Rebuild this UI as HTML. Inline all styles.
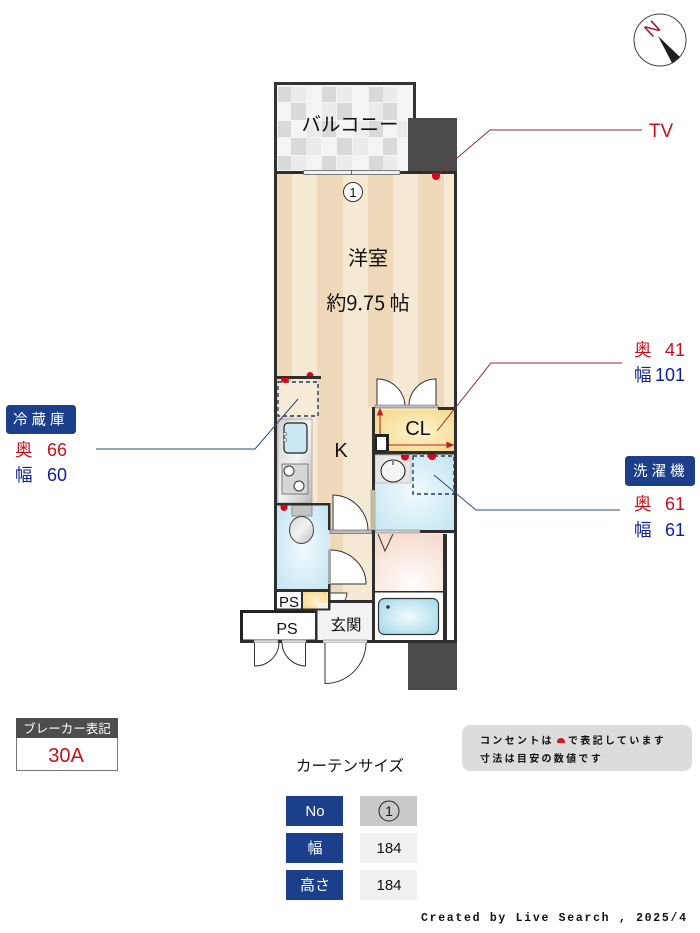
<!DOCTYPE html>
<html lang="ja"><head><meta charset="utf-8"><title>間取り図</title>
<style>
html,body{margin:0;padding:0;background:#fff}
svg{display:block}
text{font-family:"Liberation Sans","Noto Sans CJK JP",sans-serif;fill:#111}
.j{font-family:"Noto Sans CJK JP","Liberation Sans",sans-serif}
.r{fill:#c8101c}.b{fill:#10209c}.w{fill:#fff}
</style></head><body>
<svg width="700" height="933" viewBox="0 0 700 933" xmlns="http://www.w3.org/2000/svg">
<defs>
<radialGradient id="blue" cx="50%" cy="50%" r="75%"><stop offset="0" stop-color="#f2fafd"/><stop offset="1" stop-color="#bfe3f0"/></radialGradient>
<radialGradient id="pink" cx="55%" cy="85%" r="85%"><stop offset="0" stop-color="#fffdfb"/><stop offset="1" stop-color="#f6dccf"/></radialGradient>
<radialGradient id="tub" cx="50%" cy="50%" r="60%"><stop offset="0" stop-color="#f2fbfd"/><stop offset="1" stop-color="#a9dcea"/></radialGradient>
<radialGradient id="yel" cx="55%" cy="50%" r="65%"><stop offset="0" stop-color="#fdf3d2"/><stop offset="1" stop-color="#f6d98a"/></radialGradient>
<linearGradient id="steel" x1="0" y1="0" x2="1" y2="1"><stop offset="0" stop-color="#d2d2d2"/><stop offset=".5" stop-color="#f3f3f3"/><stop offset="1" stop-color="#bdbdbd"/></linearGradient>
</defs>
<rect width="700" height="933" fill="#fff"/>

<!-- balcony -->
<rect x="275.500" y="83.500" width="139" height="90" fill="#f4f4f4" stroke="#333" stroke-width="3"/>
<g fill="#d9d9d9">
<rect x="278" y="87" width="13" height="15"/><rect x="322" y="87" width="14" height="15"/><rect x="369" y="87" width="14" height="15"/>
<rect x="291" y="103" width="15" height="17"/><rect x="337" y="103" width="15" height="17"/><rect x="383" y="103" width="14" height="17"/>
<rect x="278" y="121" width="13" height="16"/><rect x="322" y="121" width="14" height="16"/><rect x="369" y="121" width="14" height="16"/>
<rect x="291" y="138" width="15" height="17"/><rect x="337" y="138" width="15" height="17"/><rect x="383" y="138" width="14" height="17"/>
<rect x="278" y="156" width="13" height="14"/><rect x="322" y="156" width="14" height="14"/><rect x="369" y="156" width="14" height="14"/>
</g>
<g fill="#ebebeb">
<rect x="291" y="87" width="15" height="15"/><rect x="337" y="87" width="15" height="15"/><rect x="383" y="87" width="14" height="15"/>
<rect x="322" y="103" width="14" height="17"/><rect x="369" y="103" width="14" height="17"/><rect x="306" y="121" width="15" height="16"/>
<rect x="353" y="121" width="15" height="16"/><rect x="397" y="121" width="10" height="16"/><rect x="306" y="138" width="15" height="17"/>
<rect x="353" y="138" width="15" height="17"/><rect x="291" y="156" width="15" height="14"/><rect x="337" y="156" width="15" height="14"/><rect x="383" y="156" width="14" height="14"/>
</g>
<!-- dark columns -->
<rect x="408" y="118" width="49" height="55" fill="#4a4a4a"/>
<rect x="408" y="642" width="49" height="48" fill="#4a4a4a"/>

<!-- floor -->
<rect x="275" y="172" width="182" height="430" fill="#f5e9d3"/>
<g fill="#eed9bb">
<rect x="277" y="174" width="15" height="356"/><rect x="317" y="174" width="26" height="360"/><rect x="368" y="174" width="25" height="234"/><rect x="418" y="174" width="26" height="234"/>
</g>
<rect x="343" y="534" width="29" height="66" fill="#f5e9d3"/><rect x="330" y="534" width="13" height="66" fill="#eed9bb"/>

<!-- fridge -->
<rect x="278" y="382" width="40" height="34" fill="#f5ebd8" stroke="#1d3a66" stroke-width="1.400" stroke-dasharray="4 3"/>

<!-- kitchen -->
<rect x="278" y="419" width="34" height="84" fill="url(#steel)" stroke="#999" stroke-width=".7"/>
<rect x="284" y="423" width="23" height="30" rx="4" fill="#c9e8f2" stroke="#222" stroke-width="1.200"/>
<circle cx="285" cy="434" r="1.600" fill="#eee" stroke="#555" stroke-width=".6"/><circle cx="285" cy="440" r="1.600" fill="#eee" stroke="#555" stroke-width=".6"/>
<rect x="282" y="464" width="26" height="30" fill="#d6d6d6" stroke="#666" stroke-width=".8"/>
<circle cx="289" cy="471" r="5" fill="#fff" stroke="#333"/><circle cx="299" cy="486" r="5" fill="#fff" stroke="#333"/>

<!-- toilet -->
<rect x="277" y="504" width="52" height="86" fill="url(#blue)"/>
<rect x="292" y="505" width="20" height="11" fill="#c4c4c4" stroke="#777" stroke-width=".7"/>
<ellipse cx="301.500" cy="530" rx="12" ry="13.500" fill="url(#steel)" stroke="#444"/>

<!-- inner door to corridor -->
<path d="M333 495 A36 36 0 0 1 368 531 L333 531 Z" fill="#fff" stroke="#333" stroke-width="1"/>
<rect x="330" y="530" width="42" height="3.500" fill="#bbb" stroke="#555" stroke-width=".6"/>
<path d="M330 550 A36 34 0 0 1 366 584 L330 584 Z" fill="#fff" stroke="#333" stroke-width="1"/>
<rect x="328" y="550" width="3" height="34" fill="#aaa"/>

<!-- PS / yellow -->
<rect x="277" y="592" width="24" height="17" fill="#fff"/>
<rect x="303" y="592" width="24" height="17" fill="url(#yel)"/>
<path d="M330 593 L347 593 A17 17 0 0 1 330 609 Z" fill="#fff" stroke="#333" stroke-width=".9"/>
<rect x="241.500" y="611.500" width="75" height="29.500" fill="#fff" stroke="#222" stroke-width="3"/>
<rect x="317" y="603" width="55" height="37" fill="#f3f3f3"/>
<rect x="372" y="534" width="84" height="107" fill="#fff"/>

<!-- bath -->
<rect x="374" y="534" width="69" height="58" fill="url(#pink)"/>
<rect x="374" y="592" width="69" height="48" fill="#fff"/>
<rect x="378.500" y="598.500" width="60" height="36" rx="6" fill="url(#tub)" stroke="#333" stroke-width="1.200"/>
<circle cx="388" cy="607" r="1.800" fill="#234"/>
<path d="M378 534 L385 551 L393 534" fill="none" stroke="#444" stroke-width="1.100"/>
<rect x="447" y="534" width="8" height="106" fill="#fff"/>

<!-- washroom -->
<rect x="374" y="455" width="80" height="76" fill="url(#blue)"/>
<rect x="375" y="455" width="36" height="28" fill="#e6e6e6" stroke="#aaa" stroke-width=".6"/>
<ellipse cx="393" cy="471" rx="12" ry="11" fill="#f4f4f4" stroke="#222" stroke-width="1.100"/>
<path d="M393 461 V465" stroke="#222" stroke-width="1"/>
<rect x="413" y="456" width="41" height="38" fill="none" stroke="#1d3a66" stroke-width="1.400" stroke-dasharray="4 3"/>
<rect x="371" y="490" width="4" height="40" fill="#c6bfa6" stroke="#888" stroke-width=".5"/>

<!-- CL -->
<rect x="375" y="410" width="79" height="41" fill="url(#yel)"/>
<path d="M377 379 A28 28 0 0 1 405 407 L377 407 Z" fill="#fff" stroke="#333"/>
<path d="M436 379 A27 27 0 0 0 409 407 L436 407 Z" fill="#fff" stroke="#333"/>
<rect x="375" y="405" width="63" height="3" fill="#bbb" stroke="#666" stroke-width=".5"/>
<rect x="375.500" y="435.500" width="12" height="16" fill="#fff" stroke="#222" stroke-width="3"/>
<g stroke="#b3262e" fill="#b3262e" stroke-width="1.100">
<path d="M380 434 V413"/><path d="M380 409 L377.500 415 H382.500 Z"/>
<path d="M389 445 H449"/><path d="M453 445 L447 442.500 V447.500 Z"/>
</g>

<!-- walls -->
<g fill="#2e2e2e">
<rect x="274" y="172" width="3" height="438"/>
<rect x="454" y="172" width="3" height="470"/>
<rect x="275" y="171" width="181" height="3"/>
<rect x="276" y="376" width="45" height="3"/>
<rect x="276" y="503" width="53" height="2.500"/>
<rect x="328" y="503" width="2.500" height="27"/>
<rect x="328" y="584" width="2.500" height="26"/>
<rect x="275" y="589" width="55" height="3"/>
<rect x="301" y="590" width="2" height="20"/>
<rect x="275" y="608.500" width="55" height="2"/>
<rect x="372" y="407" width="3" height="83"/>
<rect x="438" y="407" width="18" height="3"/>
<rect x="374" y="451" width="82" height="3.500"/>
<rect x="372" y="530" width="3" height="112"/>
<rect x="420" y="530" width="36" height="3"/>
<rect x="443" y="534" width="4" height="108"/>
<rect x="374" y="591" width="69" height="1.500"/>
<rect x="330" y="600" width="43" height="3"/>
<rect x="240" y="640" width="217" height="3"/>
<rect x="315" y="610" width="2.500" height="32"/>
</g>
<rect x="375" y="530" width="45" height="3" fill="#ccc" stroke="#777" stroke-width=".5"/>

<!-- window -->
<rect x="303.500" y="170.500" width="96.500" height="4" rx="1" fill="#f2f2f2" stroke="#555" stroke-width=".8"/>
<path d="M351.500 170 V175" stroke="#555" stroke-width=".8"/>

<!-- entry + PS doors -->
<rect x="323" y="640" width="44" height="3" fill="#e2e2e2" stroke="#666" stroke-width=".5"/>
<path d="M325 643 V683.500 A41 41 0 0 0 366 643" fill="#fff" stroke="#333"/>
<rect x="254" y="640" width="24" height="3" fill="#ddd" stroke="#666" stroke-width=".5"/><rect x="282" y="640" width="24" height="3" fill="#ddd" stroke="#666" stroke-width=".5"/>
<path d="M254.500 643 V666 A24 24 0 0 0 279 643" fill="#fff" stroke="#333"/>
<path d="M305.500 643 V666 A24 24 0 0 1 282 643" fill="#fff" stroke="#333"/>

<!-- outlets -->
<g fill="#e00018">
<path d="M432 173 h8 v3 a4 4 0 0 1 -8 0 Z"/>
<path d="M306.500 376 a3.500 4 0 0 1 7 0 Z"/><path d="M281 378 h8 v1 a4 4 0 0 1 -8 0 Z"/>
<path d="M280.500 505 h7 v2 a3.500 4 0 0 1 -7 0 Z"/>
<path d="M401 455 h8 v1.500 a4 4 0 0 1 -8 0 Z"/><path d="M428 454.500 h8 v1.500 a4 4 0 0 1 -8 0 Z"/>
</g>

<!-- leaders -->
<path d="M437 175 L490 130 H642" fill="none" stroke="#8f2a3c" stroke-width="1"/>
<path d="M437 431 L491 363 H622" fill="none" stroke="#8f2a3c" stroke-width="1"/>
<path d="M298 399 L255 449 H96" fill="none" stroke="#2c4a7c" stroke-width="1"/>
<path d="M434 475 L476 510 H620" fill="none" stroke="#2c4a7c" stroke-width="1"/>

<!-- floor labels -->
<circle cx="353" cy="192" r="9.500" fill="#fff" stroke="#333"/>
<text x="353" y="197" font-size="13" text-anchor="middle">1</text>
<text class="j" x="350" y="131" font-size="19.500" text-anchor="middle">バルコニー</text>
<text class="j" x="368" y="265" font-size="20" text-anchor="middle">洋室</text>
<text class="j" x="368" y="310" font-size="20" text-anchor="middle">約9.75 帖</text>
<text x="341" y="457" font-size="20" text-anchor="middle">K</text>
<text x="418" y="435" font-size="20" text-anchor="middle">CL</text>
<text x="289" y="607" font-size="15" text-anchor="middle">PS</text>
<text x="287" y="634" font-size="16" text-anchor="middle">PS</text>
<text class="j" x="346" y="630" font-size="15.500" text-anchor="middle">玄関</text>

<!-- right/left annotation -->
<text x="661" y="137" font-size="19" text-anchor="middle" class="r">TV</text>
<g font-size="17.500">
<text x="634" y="356" class="r j">奥</text><text x="634" y="381" class="b j">幅</text>
<text x="634" y="510" class="r j">奥</text><text x="634" y="536" class="b j">幅</text>
<text x="15" y="456" class="r j">奥</text><text x="15" y="481" class="b j">幅</text>
</g>
<g font-size="18" text-anchor="end">
<text x="685" y="356" class="r">41</text><text x="685" y="381" class="b">101</text>
<text x="685" y="510" class="r">61</text><text x="685" y="536" class="b">61</text>
<text x="67" y="456" class="r">66</text><text x="67" y="481" class="b">60</text>
</g>
<rect x="6" y="405" width="70" height="29" rx="3.500" fill="#1b3f8b"/>
<text class="j w" x="13" y="424.500" font-size="14.500" letter-spacing="4">冷蔵庫</text>
<rect x="625" y="456" width="70" height="30" rx="3.500" fill="#1b3f8b"/>
<text class="j w" x="633" y="476" font-size="14.500" letter-spacing="4">洗濯機</text>

<!-- compass -->
<circle cx="660" cy="40" r="26" fill="#fff" stroke="#444" stroke-width="1"/>
<path d="M658 36 L680 57 L672 63 Z" fill="#221e1e"/>
<text x="652.500" y="35" font-size="19" text-anchor="middle" style="fill:#a5182c" transform="rotate(-43 652.500 29)">N</text>

<!-- breaker -->
<rect x="16.500" y="718.500" width="101" height="52" fill="#fff" stroke="#777"/>
<rect x="16" y="718" width="102" height="20" fill="#4d4d4d"/>
<text class="j w" x="67" y="733" font-size="12.500" text-anchor="middle">ブレーカー表記</text>
<text x="66" y="762" font-size="20" text-anchor="middle" class="r">30A</text>

<!-- notice -->
<rect x="462" y="725" width="230" height="46" rx="8" fill="#dcdcdc"/>
<text class="j" x="480" y="744" font-size="10" letter-spacing="2.300" font-weight="700">コンセントは</text>
<path d="M557 742 a4 4 0 0 1 8 0 v1 h-8 Z" fill="#d01a20"/>
<text class="j" x="568" y="744" font-size="10" letter-spacing="2.300" font-weight="700">で表記しています</text>
<text class="j" x="480" y="762" font-size="10" letter-spacing="2.300" font-weight="700">寸法は目安の数値です</text>

<!-- curtain -->
<text class="j" x="350" y="771" font-size="15.500" text-anchor="middle">カーテンサイズ</text>
<rect x="286" y="796" width="57" height="30" fill="#1b3f8b"/><rect x="286" y="833" width="57" height="30" fill="#1b3f8b"/><rect x="286" y="870" width="57" height="30" fill="#1b3f8b"/>
<rect x="360" y="796" width="57" height="30" fill="#c9c9c9"/><rect x="360" y="833" width="57" height="30" fill="#f0f0f0"/><rect x="360" y="870" width="57" height="30" fill="#f0f0f0"/>
<text x="315" y="816" font-size="15" text-anchor="middle" class="w">No</text>
<text class="j w" x="315" y="853" font-size="15" text-anchor="middle">幅</text>
<text class="j w" x="315" y="890" font-size="15" text-anchor="middle">高さ</text>
<circle cx="389" cy="811" r="10" fill="none" stroke="#222"/>
<text x="389" y="816" font-size="14" text-anchor="middle">1</text>
<text x="389" y="853" font-size="15" text-anchor="middle">184</text>
<text x="389" y="890" font-size="15" text-anchor="middle">184</text>

<text x="421" y="921" font-size="11.500" font-weight="700" textLength="265" style="font-family:'Liberation Mono',monospace">Created by Live Search , 2025/4</text>
</svg>
</body></html>
